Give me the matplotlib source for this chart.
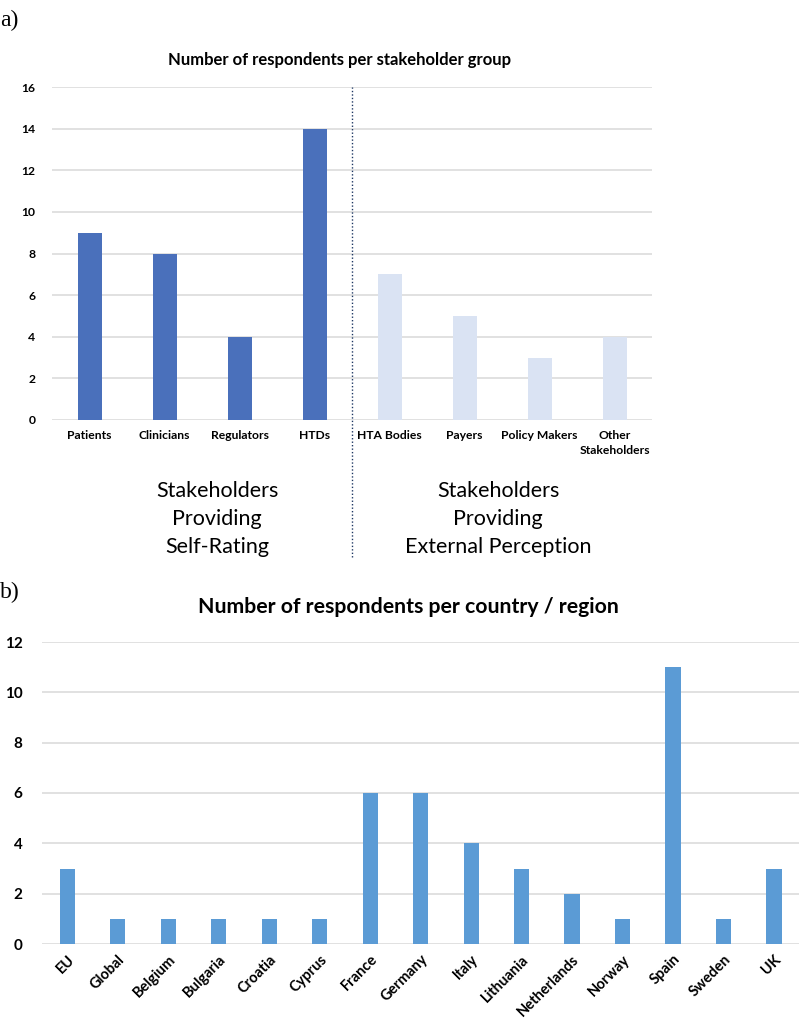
import matplotlib.pyplot as plt

# panel a) data
groups = ["Patients", "Clinicians", "Regulators", "HTDs",
          "HTA Bodies", "Payers", "Policy Makers", "Other\nStakeholders"]
group_counts = [9, 8, 4, 14, 7, 5, 3, 4]
self_rating = [True, True, True, True, False, False, False, False]

# panel b) data
countries = ["EU", "Global", "Belgium", "Bulgaria", "Croatia", "Cyprus", "France",
             "Germany", "Italy", "Lithuania", "Netherlands", "Norway", "Spain",
             "Sweden", "UK"]
country_counts = [3, 1, 1, 1, 1, 1, 6, 6, 4, 3, 2, 1, 11, 1, 3]

DARK = "#4a70bb"
LIGHT = "#dae3f3"
MID = "#5b9bd5"
GRID = "#d9d9d9"
FONT = "Lato"


def style_axis(ax):
    for s in ax.spines.values():
        s.set_visible(False)
    ax.yaxis.grid(True, color=GRID, lw=1.1)
    ax.set_axisbelow(True)
    ax.tick_params(length=0)


fig = plt.figure(figsize=(8, 10.27), dpi=100)

# ---- a) stakeholder groups
ax1 = fig.add_axes([0.065, 1 - 420 / 1027, 0.75, (420 - 87) / 1027])
style_axis(ax1)
colors = [DARK if s else LIGHT for s in self_rating]
ax1.bar(range(len(groups)), group_counts, width=0.32, color=colors, zorder=2)
ax1.set_xlim(-0.5, len(groups) - 0.5)
ax1.set_ylim(0, 16)
ax1.set_yticks(range(0, 17, 2))
ax1.set_xticks(range(len(groups)))
ax1.set_xticklabels(groups, fontsize=8.7, fontweight="bold", family=FONT,
                    linespacing=1.45)
for lab in ax1.get_yticklabels():
    lab.set_fontsize(8.7)
    lab.set_fontweight("bold")
    lab.set_family(FONT)
ax1.tick_params(axis="y", pad=12)
ax1.tick_params(axis="x", pad=7)

# dotted divider between the two stakeholder blocks
ax1.plot([3.5, 3.5], [-6.6, 16], ls=(0, (1, 1.5)), color="#1f3864", lw=1,
         clip_on=False, zorder=3)

fig.text(340 / 800, 1 - 60 / 1027, "Number of respondents per stakeholder group",
         ha="center", va="center", fontsize=12, fontweight="bold", family=FONT)
fig.text(217 / 800, 1 - 519 / 1027, "Stakeholders\nProviding\nSelf-Rating",
         ha="center", va="center", fontsize=15.5, family=FONT, linespacing=1.5)
fig.text(498 / 800, 1 - 519 / 1027, "Stakeholders\nProviding\nExternal Perception",
         ha="center", va="center", fontsize=15.5, family=FONT, linespacing=1.5)

# ---- b) countries
ax2 = fig.add_axes([42 / 800, 1 - 944 / 1027, 1 - 42 / 800 - 0.001, (944 - 642) / 1027])
style_axis(ax2)
ax2.bar(range(len(countries)), country_counts, width=0.3, color=MID, zorder=2)
ax2.set_xlim(-0.5, len(countries) - 0.5)
ax2.set_ylim(0, 12)
ax2.set_yticks(range(0, 13, 2))
ax2.set_xticks(range(len(countries)))
ax2.set_xticklabels(countries, rotation=45, ha="right", rotation_mode="anchor",
                    fontsize=10.5, fontweight="bold", family=FONT)
for lab in ax2.get_yticklabels():
    lab.set_fontsize(11)
    lab.set_fontweight("bold")
    lab.set_family(FONT)
ax2.tick_params(axis="y", pad=14)
ax2.tick_params(axis="x", pad=6)

fig.text(408 / 800, 1 - 607 / 1027, "Number of respondents per country / region",
         ha="center", va="center", fontsize=15.3, fontweight="bold", family=FONT)

fig.text(0.0, 1 - 20 / 1027, "a)", ha="left", va="center", fontsize=17,
         family="Liberation Serif")
fig.text(0.0, 1 - 592 / 1027, "b)", ha="left", va="center", fontsize=17,
         family="Liberation Serif")

fig.savefig("out.png", dpi=100)
